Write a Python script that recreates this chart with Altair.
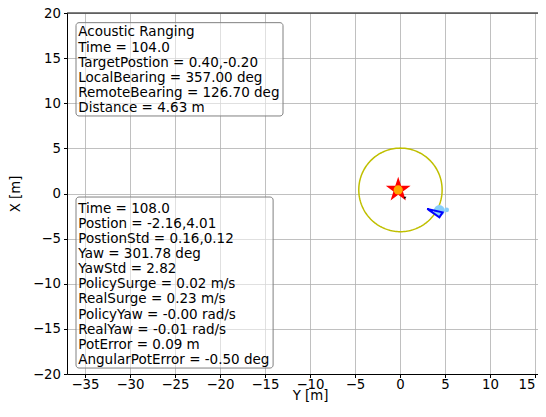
import altair as alt
import pandas as pd
import numpy as np

# ---- data ----
# target (acoustic ranging)
target_X = [0.40]
target_Y = [-0.20]
range_center_X = [0.40]
range_center_Y = [0.05]
range_distance = [4.63]

# vehicle hull outline (tip, two base corners, back to tip)
boat_X = [-1.71, -2.09, -2.64, -1.71]
boat_Y = [3.03, 4.73, 4.38, 3.03]

# light-blue trail points
trail_X = [-1.89, -1.82]
trail_Y = [4.37, 5.19]
trail_size = [120, 22]

# small black marker
marker_X = [-0.5]
marker_Y = [0.55]

x_ticks = [-35, -30, -25, -20, -15, -10, -5, 0, 5, 10, 15]
y_ticks = [-20, -15, -10, -5, 0, 5, 10, 15, 20]

box1_lines = [
    "Acoustic Ranging",
    "Time = 104.0",
    "TargetPostion = 0.40,-0.20",
    "LocalBearing = 357.00 deg",
    "RemoteBearing = 126.70 deg",
    "Distance = 4.63 m",
]
box2_lines = [
    "Time = 108.0",
    "Postion = -2.16,4.01",
    "PostionStd = 0.16,0.12",
    "Yaw = 301.78 deg",
    "YawStd = 2.82",
    "PolicySurge = 0.02 m/s",
    "RealSurge = 0.23 m/s",
    "PolicyYaw = -0.00 rad/s",
    "RealYaw = -0.01 rad/s",
    "PotError = 0.09 m",
    "AngularPotError = -0.50 deg",
]

# ---- layout ----
W, H = 471, 361
XDOM = [-37, -37 + W / 9.0]
YDOM = [-20, 20]
FONT = "DejaVu Sans"
FS = 13.3
STAR = ("M0,-1L0.2245,-0.309L0.951,-0.309L0.363,0.118L0.588,0.809L0,0.382"
        "L-0.588,0.809L-0.363,0.118L-0.951,-0.309L-0.2245,-0.309Z")

xs = alt.Scale(domain=XDOM, nice=False, zero=False)
ys = alt.Scale(domain=YDOM, nice=False, zero=False)

xaxis = alt.Axis(values=x_ticks, title="Y [m]", orient="bottom", grid=True, gridColor="#b0b0b0",
                 gridWidth=0.8, domainColor="black", tickColor="black", tickSize=3.5,
                 labelFontSize=FS, labelFont=FONT, labelColor="black", labelPadding=0,
                 labelAlign={"condition": {"test": "datum.value >= 15", "value": "right"},
                             "value": "center"},
                 titleFont=FONT, titleFontSize=FS, titleFontWeight="normal",
                 titleColor="black", titlePadding=-2, titleX=243)
yaxis = alt.Axis(values=y_ticks, title="X [m]", orient="left", grid=True, gridColor="#b0b0b0",
                 gridWidth=0.8, domainColor="black", tickColor="black", tickSize=3.5,
                 labelFontSize=FS, labelFont=FONT, labelColor="black", labelPadding=3,
                 titleFont=FONT, titleFontSize=FS, titleFontWeight="normal",
                 titleColor="black", titlePadding=10)


def enc():
    return dict(x=alt.X("Y:Q", scale=xs, axis=xaxis), y=alt.Y("X:Q", scale=ys, axis=yaxis))


top_spine = alt.Chart(pd.DataFrame({"Y": [XDOM[0]], "Y2": [XDOM[1]], "X": [YDOM[1]]})).mark_rule(
    color="black", strokeWidth=1).encode(x2="Y2:Q", **enc())

# range circle
theta = np.linspace(0, 2 * np.pi, 181)
circ = pd.DataFrame({
    "Y": range_center_Y[0] + range_distance[0] * np.sin(theta),
    "X": range_center_X[0] + range_distance[0] * np.cos(theta),
    "o": np.arange(len(theta)),
})
circle = alt.Chart(circ).mark_line(color="#bfbf00", strokeWidth=1.5).encode(order="o:Q", **enc())

tgt = pd.DataFrame({"Y": target_Y, "X": target_X})
star = alt.Chart(tgt).mark_point(shape=STAR, filled=True, color="red", size=680, opacity=1).encode(**enc())
dot = alt.Chart(tgt).mark_point(shape="circle", filled=True, color="orange", size=85, opacity=1).encode(**enc())

mk = alt.Chart(pd.DataFrame({"Y": marker_Y, "X": marker_X})).mark_point(
    shape="triangle-down", filled=True, color="black", size=8, opacity=1).encode(**enc())

trail = alt.Chart(pd.DataFrame({"Y": trail_Y, "X": trail_X, "s": trail_size})).mark_point(
    shape="circle", filled=True, color="#87cefa", opacity=1).encode(
    size=alt.Size("s:Q", scale=None, legend=None), **enc())

boat = alt.Chart(pd.DataFrame({"Y": boat_Y, "X": boat_X, "o": list(range(len(boat_X)))})).mark_line(
    color="#0000ff", strokeWidth=2, strokeJoin="miter").encode(order="o:Q", **enc())

# annotation boxes (data units)
boxes = pd.DataFrame({
    "Y": [-36.0, -36.0], "Y2": [-13.0, -14.1],
    "X": [18.93, -0.39], "X2": [8.59, -19.34],
})
box = alt.Chart(boxes).mark_rect(fill="white", fillOpacity=0.5, stroke="#808080",
                                 strokeWidth=1, cornerRadius=3).encode(
    x2="Y2:Q", y2="X2:Q", **enc())

texts = pd.DataFrame({
    "Y": [-35.75, -35.75],
    "X": [18.62, -0.93],
    "t": ["\n".join(box1_lines), "\n".join(box2_lines)],
})
txt = alt.Chart(texts).mark_text(align="left", baseline="top", font=FONT, fontSize=13.5,
                                 lineHeight=15.1, lineBreak="\n", color="black").encode(
    text="t:N", **enc())

chart = alt.layer(top_spine, circle, star, dot, mk, trail, boat, box, txt).properties(
    width=W, height=H,
    autosize=alt.AutoSizeParams(type="none"),
    padding={"left": 59, "top": 5, "right": 0, "bottom": 30},
).configure_view(strokeWidth=0)

chart.save("out.html", embed_options={"renderer": "svg", "actions": False})
